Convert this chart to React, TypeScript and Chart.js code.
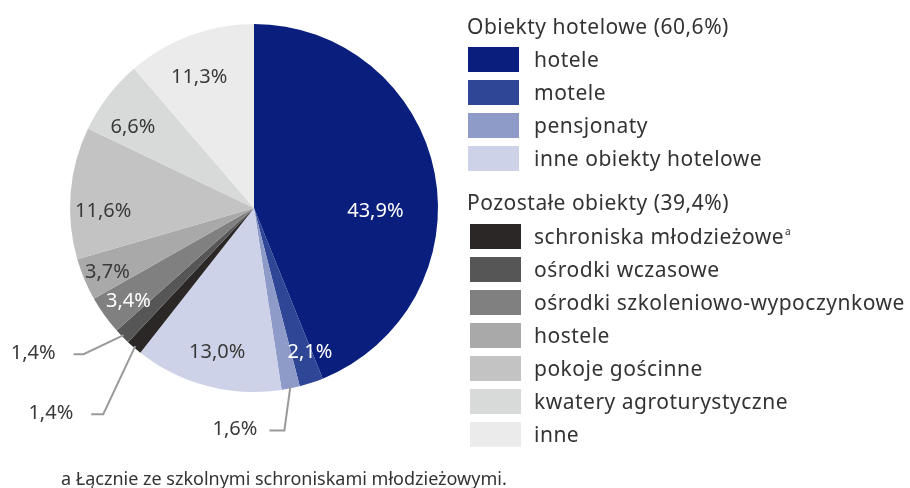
import React, { useEffect, useRef } from "react";
import { Chart, registerables } from "chart.js";

Chart.register(...registerables);

const categories = [
  "hotele",
  "motele",
  "pensjonaty",
  "inne obiekty hotelowe",
  "schroniska młodzieżowe",
  "ośrodki wczasowe",
  "ośrodki szkoleniowo-wypoczynkowe",
  "hostele",
  "pokoje gościnne",
  "kwatery agroturystyczne",
  "inne",
];
const values = [43.9, 2.1, 1.6, 13.0, 1.4, 1.4, 3.4, 3.7, 11.6, 6.6, 11.3];
const valueLabels = ["43,9%", "2,1%", "1,6%", "13,0%", "1,4%", "1,4%", "3,4%", "3,7%", "11,6%", "6,6%", "11,3%"];
const colors = [
  "#0a1f7d",
  "#2f4595",
  "#8e9bc9",
  "#cdd2e8",
  "#2a2726",
  "#565656",
  "#808080",
  "#a9a9a9",
  "#c3c3c3",
  "#d8dada",
  "#ebebeb",
];
const groupHeaders = ["Obiekty hotelowe (60,6%)", "Pozostałe obiekty (39,4%)"];
const groupMembers = [
  [0, 1, 2, 3],
  [4, 5, 6, 7, 8, 9, 10],
];
const footnote = "a Łącznie ze szkolnymi schroniskami młodzieżowymi.";

// label styling: inside labels (angle fraction in slice, radius fraction, colour)
// outside labels (elbow offset, horizontal line length, gap to text)
type LabelStyle =
  | { mode: "in"; af: number; rf: number; color: string }
  | { mode: "out"; edx: number; edy: number; len: number; gap: number };
const labelStyles: LabelStyle[] = [
  { mode: "in", af: 0.58, rf: 0.66, color: "#ffffff" },
  { mode: "in", af: 0.1, rf: 0.84, color: "#ffffff" },
  { mode: "out", edx: -6, edy: 44, len: 15, gap: 12 },
  { mode: "in", af: 0.49, rf: 0.81, color: "#3a3a3a" },
  { mode: "out", edx: -32, edy: 68, len: 12, gap: 18 },
  { mode: "out", edx: -40, edy: 19, len: 10, gap: 18 },
  { mode: "in", af: 0.42, rf: 0.85, color: "#ffffff" },
  { mode: "in", af: 0.44, rf: 0.87, color: "#3a3a3a" },
  { mode: "in", af: 0.36, rf: 0.82, color: "#3a3a3a" },
  { mode: "in", af: 0.34, rf: 0.79, color: "#3a3a3a" },
  { mode: "in", af: 0.44, rf: 0.77, color: "#3a3a3a" },
];

const FONT = '"Noto Sans", "Open Sans", sans-serif';

const labelPlugin = {
  id: "sliceLabels",
  afterDatasetsDraw(chart: any) {
    const ctx = chart.ctx as CanvasRenderingContext2D;
    const meta = chart.getDatasetMeta(0);
    ctx.save();
    ctx.font = `20px ${FONT}`;
    ctx.textBaseline = "middle";
    meta.data.forEach((arc: any, i: number) => {
      const p = arc.getProps(["x", "y", "startAngle", "endAngle", "outerRadius"], true);
      const st = labelStyles[i];
      if (st.mode === "in") {
        const a = p.startAngle + (p.endAngle - p.startAngle) * st.af;
        const x = p.x + Math.cos(a) * p.outerRadius * st.rf;
        const y = p.y + Math.sin(a) * p.outerRadius * st.rf;
        ctx.fillStyle = st.color;
        ctx.textAlign = "center";
        ctx.fillText(valueLabels[i], x, y);
      } else {
        const a = (p.startAngle + p.endAngle) / 2;
        const ex = p.x + Math.cos(a) * p.outerRadius * 0.99;
        const ey = p.y + Math.sin(a) * p.outerRadius * 0.99;
        const bx = ex + st.edx;
        const by = ey + st.edy;
        const lx = bx - st.len;
        ctx.strokeStyle = "#9a9a9a";
        ctx.lineWidth = 2;
        ctx.beginPath();
        ctx.moveTo(ex, ey);
        ctx.lineTo(bx, by);
        ctx.lineTo(lx, by);
        ctx.stroke();
        ctx.fillStyle = "#3a3a3a";
        ctx.textAlign = "right";
        ctx.fillText(valueLabels[i], lx - st.gap, by - 1);
      }
    });
    ctx.restore();
  },
};

export default function App() {
  const ref = useRef<HTMLCanvasElement | null>(null);

  useEffect(() => {
    if (!ref.current) return;
    const chart = new Chart(ref.current, {
      type: "pie",
      data: {
        labels: categories,
        datasets: [
          {
            data: values,
            backgroundColor: colors,
            borderWidth: 0,
          },
        ],
      },
      options: {
        animation: false,
        responsive: false,
        devicePixelRatio: 1,
        layout: { padding: { left: 70, top: 24, right: 472, bottom: 96 } },
        plugins: {
          legend: { display: false },
          tooltip: { enabled: false },
        },
      },
      plugins: [labelPlugin],
    });
    return () => chart.destroy();
  }, []);

  const headerTops = [27, 203];
  const rowStarts = [47, 224];
  const rowStep = 33;
  const swatchLeft = [468, 470];
  const textStyle = {
    fontSize: 21,
    letterSpacing: "0.5px",
    whiteSpace: "nowrap" as const,
    height: 30,
    lineHeight: "30px",
  };

  return (
    <div
      style={{
        position: "fixed",
        left: 0,
        top: 0,
        width: 910,
        height: 488,
        background: "#ffffff",
        fontFamily: FONT,
        color: "#333333",
        overflow: "hidden",
      }}
    >
      <canvas ref={ref} width={910} height={488} style={{ position: "absolute", left: 0, top: 0 }} />
      {groupHeaders.map((h, g) => (
        <div
          key={h}
          style={{
            ...textStyle,
            position: "absolute",
            left: 467,
            top: headerTops[g] - 16,
          }}
        >
          {h}
        </div>
      ))}
      {groupMembers.map((members, g) =>
        members.map((idx, r) => {
          const top = rowStarts[g] + r * rowStep;
          return (
            <React.Fragment key={idx}>
              <div
                style={{
                  position: "absolute",
                  left: swatchLeft[g],
                  top,
                  width: 51,
                  height: 25,
                  background: colors[idx],
                }}
              />
              <div
                style={{
                  ...textStyle,
                  position: "absolute",
                  left: 534,
                  top: top - 3,
                }}
              >
                {categories[idx]}
                {idx === 4 ? (
                  <sup style={{ fontSize: 10, verticalAlign: "top", lineHeight: "20px", marginLeft: 1 }}>a</sup>
                ) : null}
              </div>
            </React.Fragment>
          );
        })
      )}
      <div
        style={{
          position: "absolute",
          left: 61,
          top: 466,
          height: 24,
          lineHeight: "24px",
          fontSize: 18,
          whiteSpace: "nowrap",
        }}
      >
        {footnote}
      </div>
    </div>
  );
}
